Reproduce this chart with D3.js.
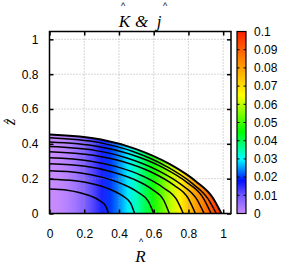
<!DOCTYPE html>
<html>
<head>
<meta charset="utf-8">
<script src="https://cdn.jsdelivr.net/npm/d3@7"></script>
<style>
  body { margin: 0; background: #fff; }
  svg { display: block; }
</style>
</head>
<body>
<div id="chart"></div>
<script>
// colour field (varies with R only)
const rNodes = [0, 0.05, 0.1, 0.15, 0.2, 0.25, 0.3, 0.35, 0.4, 0.45, 0.5, 0.55, 0.6, 0.65, 0.7, 0.75, 0.8, 0.85, 0.9, 0.95, 1];
const heatValues = [0, 0.0005, 0.002, 0.0045, 0.008, 0.012, 0.016, 0.020, 0.024, 0.029, 0.034, 0.040, 0.046, 0.053, 0.060, 0.067, 0.074, 0.081, 0.087, 0.094, 0.1];

// outer boundary [R, z]
const boundary = [[0, 0.454], [0.297, 0.425], [0.495, 0.371], [0.693, 0.283], [0.842, 0.185], [0.941, 0.089], [0.99, 0]];

// contour lines [R, z]
const contours = [
  [[0, 0.14], [0.102, 0.134], [0.17, 0.121], [0.238, 0.100], [0.289, 0.074], [0.323, 0.044], [0.34, 0]],
  [[0, 0.197], [0.147, 0.188], [0.245, 0.171], [0.343, 0.141], [0.417, 0.104], [0.466, 0.061], [0.49, 0]],
  [[0, 0.245], [0.18, 0.233], [0.30, 0.209], [0.42, 0.169], [0.51, 0.121], [0.57, 0.068], [0.60, 0]],
  [[0, 0.285], [0.207, 0.271], [0.345, 0.243], [0.483, 0.197], [0.587, 0.141], [0.656, 0.079], [0.69, 0]],
  [[0, 0.32], [0.231, 0.302], [0.385, 0.269], [0.539, 0.214], [0.655, 0.148], [0.732, 0.079], [0.77, 0]],
  [[0, 0.355], [0.252, 0.335], [0.42, 0.299], [0.588, 0.237], [0.714, 0.164], [0.798, 0.088], [0.84, 0]],
  [[0, 0.384], [0.267, 0.361], [0.445, 0.319], [0.623, 0.248], [0.757, 0.167], [0.846, 0.085], [0.89, 0]],
  [[0, 0.41], [0.279, 0.385], [0.465, 0.340], [0.651, 0.265], [0.791, 0.179], [0.884, 0.091], [0.93, 0]],
  [[0, 0.435], [0.288, 0.407], [0.48, 0.356], [0.672, 0.271], [0.816, 0.177], [0.912, 0.085], [0.96, 0]]
];

// palette
const paletteValues = [0, 0.01, 0.018, 0.03, 0.045, 0.065, 0.085, 0.1];
const paletteColors = ["#c88cff", "#7058ff", "#0010ff", "#00ffff", "#00ff00", "#ffff00", "#ff8000", "#ff2000"];

const axisTicks = [0, 0.2, 0.4, 0.6, 0.8, 1];
const colorTicks = [0, 0.01, 0.02, 0.03, 0.04, 0.05, 0.06, 0.07, 0.08, 0.09, 0.1];

const width = 294, height = 271;
const plotLeft = 49.5, plotRight = 231, plotTop = 31.5, plotBottom = 213.5;

const svg = d3.select("#chart").append("svg")
    .attr("width", width)
    .attr("height", height)
    .style("font-family", "'Liberation Sans', Arial, sans-serif");

const x = d3.scaleLinear().domain([0, 1.045]).range([plotLeft, plotRight]);
const y = d3.scaleLinear().domain([0, 1.045]).range([plotBottom, plotTop]);
const color = d3.scaleLinear().domain(paletteValues).range(paletteColors).clamp(true);
const cbScale = d3.scaleLinear().domain([0, 0.1]).range([plotBottom, plotTop]);

const defs = svg.append("defs");

// horizontal gradient for the field
const heat = defs.append("linearGradient")
    .attr("id", "heat")
    .attr("gradientUnits", "userSpaceOnUse")
    .attr("x1", x(0)).attr("x2", x(1))
    .attr("y1", 0).attr("y2", 0);
heat.selectAll("stop")
    .data(rNodes)
    .enter().append("stop")
    .attr("offset", d => d)
    .attr("stop-color", (d, i) => color(heatValues[i]));

// vertical gradient for the colour box
const cbar = defs.append("linearGradient")
    .attr("id", "cbar")
    .attr("x1", 0).attr("y1", 1)
    .attr("x2", 0).attr("y2", 0);
cbar.selectAll("stop")
    .data(paletteValues)
    .enter().append("stop")
    .attr("offset", d => d / 0.1)
    .attr("stop-color", (d, i) => paletteColors[i]);

// filled region
const area = d3.area()
    .x(d => x(d[0]))
    .y0(y(0))
    .y1(d => y(d[1]))
    .curve(d3.curveMonotoneX);

svg.append("path")
    .datum(boundary)
    .attr("d", area)
    .attr("fill", "url(#heat)");

// grid
const grid = svg.append("g")
    .attr("stroke", "#9a9a9a")
    .attr("stroke-width", 0.8)
    .attr("stroke-dasharray", "1,2");
grid.selectAll(".gx")
    .data(axisTicks.slice(1))
    .enter().append("line")
    .attr("x1", d => x(d)).attr("x2", d => x(d))
    .attr("y1", plotBottom).attr("y2", plotTop);
grid.selectAll(".gy")
    .data(axisTicks.slice(1))
    .enter().append("line")
    .attr("y1", d => y(d)).attr("y2", d => y(d))
    .attr("x1", plotLeft).attr("x2", plotRight);

// contours
const line = d3.line()
    .x(d => x(d[0]))
    .y(d => y(d[1]))
    .curve(d3.curveMonotoneX);

svg.append("g")
    .selectAll("path")
    .data(contours)
    .enter().append("path")
    .attr("d", line)
    .attr("fill", "none")
    .attr("stroke", "#000")
    .attr("stroke-width", 1.5);

svg.append("path")
    .datum(boundary)
    .attr("d", line)
    .attr("fill", "none")
    .attr("stroke", "#000")
    .attr("stroke-width", 2);

// axes with inward ticks
function styleAxis(g) {
    g.select(".domain").remove();
    g.selectAll(".tick line").attr("stroke", "#000").attr("stroke-width", 1.5);
    g.selectAll("text").attr("font-size", 12).attr("fill", "#000")
        .style("font-family", "'Liberation Sans', Arial, sans-serif");
}

svg.append("g")
    .attr("transform", `translate(0,${plotBottom})`)
    .call(d3.axisBottom(x).tickValues(axisTicks).tickSizeInner(-4).tickSizeOuter(0).tickPadding(16).tickFormat(d3.format("")))
    .call(styleAxis);
svg.append("g")
    .attr("transform", `translate(0,${plotTop})`)
    .call(d3.axisTop(x).tickValues(axisTicks).tickSizeInner(-4).tickSizeOuter(0).tickFormat(""))
    .call(styleAxis);
svg.append("g")
    .attr("transform", `translate(${plotLeft},0)`)
    .call(d3.axisLeft(y).tickValues(axisTicks).tickSizeInner(-4).tickSizeOuter(0).tickPadding(11).tickFormat(d3.format("")))
    .call(styleAxis);
svg.append("g")
    .attr("transform", `translate(${plotRight},0)`)
    .call(d3.axisRight(y).tickValues(axisTicks).tickSizeInner(-4).tickSizeOuter(0).tickFormat(""))
    .call(styleAxis);

// frame
svg.append("rect")
    .attr("x", plotLeft).attr("y", plotTop)
    .attr("width", plotRight - plotLeft).attr("height", plotBottom - plotTop)
    .attr("fill", "none")
    .attr("stroke", "#000")
    .attr("stroke-width", 1.5);

// colour box
const cbX = 237, cbW = 9;
svg.append("rect")
    .attr("x", cbX).attr("y", plotTop)
    .attr("width", cbW).attr("height", plotBottom - plotTop)
    .attr("fill", "url(#cbar)");

const cbTicks = svg.append("g").attr("stroke", "#000").attr("stroke-width", 1);
cbTicks.selectAll(".l")
    .data(colorTicks)
    .enter().append("line")
    .attr("x1", cbX).attr("x2", cbX + 2.5)
    .attr("y1", d => cbScale(d)).attr("y2", d => cbScale(d));
cbTicks.selectAll(".r")
    .data(colorTicks)
    .enter().append("line")
    .attr("x1", cbX + cbW - 2.5).attr("x2", cbX + cbW)
    .attr("y1", d => cbScale(d)).attr("y2", d => cbScale(d));

svg.append("rect")
    .attr("x", cbX).attr("y", plotTop)
    .attr("width", cbW).attr("height", plotBottom - plotTop)
    .attr("fill", "none")
    .attr("stroke", "#000")
    .attr("stroke-width", 1.2);

svg.append("g")
    .selectAll("text")
    .data(colorTicks)
    .enter().append("text")
    .attr("x", 254)
    .attr("y", d => cbScale(d))
    .attr("dy", "0.35em")
    .attr("font-size", 12)
    .text(d => d3.format("")(d));

// titles: letter + hat kept in one text element
const serif = "'Liberation Serif', 'Times New Roman', serif";
const sans = "'Liberation Sans', Arial, sans-serif";

function letter(t, ch, lx, ly) {
    t.append("tspan")
        .attr("x", lx).attr("y", ly)
        .style("font-family", serif)
        .attr("font-style", "italic")
        .attr("font-size", 17)
        .text(ch);
}
function hat(t, hx, hy) {
    t.append("tspan")
        .attr("x", hx).attr("y", hy)
        .style("font-family", sans)
        .attr("font-style", "normal")
        .attr("font-size", 9)
        .text("^");
}

const title = svg.append("text").attr("text-anchor", "middle");
letter(title, "K", 124.5, 26.5);
hat(title, 123, 9.4);
letter(title, "&", 141.5, 26.5);
letter(title, "j", 159, 26.5);
hat(title, 165, 9.4);

// x title
const xTitle = svg.append("text").attr("text-anchor", "middle");
letter(xTitle, "R", 140.5, 262);
hat(xTitle, 141, 244.9);

// y title (rotated)
const yTitle = svg.append("text")
    .attr("text-anchor", "middle")
    .attr("transform", "translate(15,122) rotate(-90)");
letter(yTitle, "z", 0, 0);
hat(yTitle, 1, -5);
</script>
</body>
</html>
